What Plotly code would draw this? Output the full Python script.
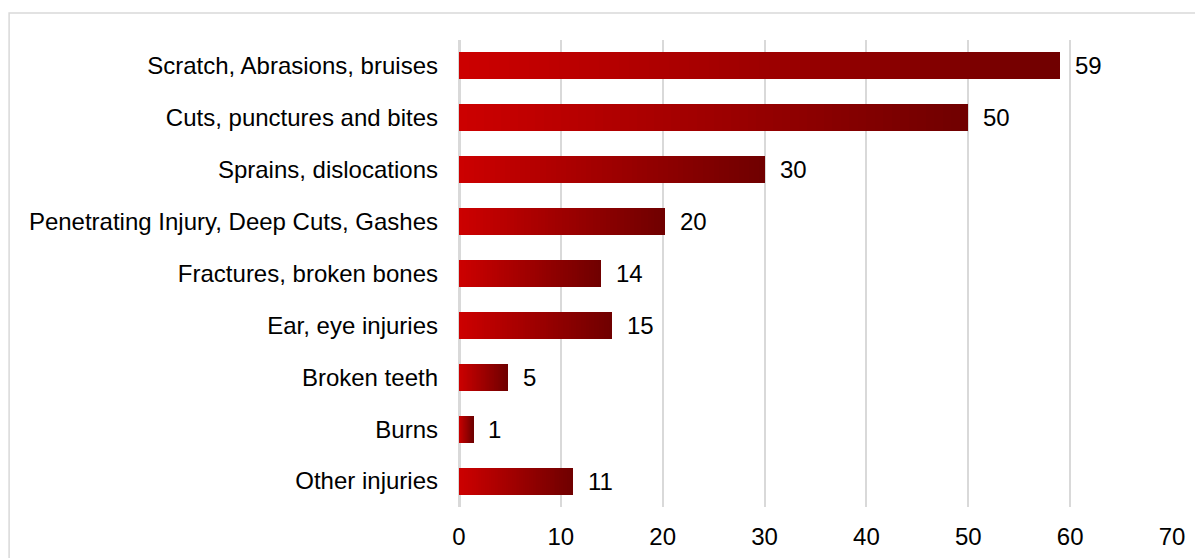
import plotly.graph_objects as go

# injury categories (top to bottom) and values
categories = [
    "Scratch, Abrasions, bruises",
    "Cuts, punctures and bites",
    "Sprains, dislocations",
    "Penetrating Injury, Deep Cuts, Gashes",
    "Fractures, broken bones",
    "Ear, eye injuries",
    "Broken teeth",
    "Burns",
    "Other injuries",
]
values = [59, 50, 30, 20.2, 13.9, 15.0, 4.8, 1.4, 11.2]
value_labels = [str(round(v)) for v in values]
x_ticks = [0, 10, 20, 30, 40, 50, 60, 70]

start_rgb = (204, 0, 0)
end_rgb = (112, 0, 0)
n_steps = 60

fig = go.Figure()

# each bar is built from thin stacked slices so it fades left to right
for i in range(n_steps):
    t = i / (n_steps - 1)
    r, g, b = [round(s + (e - s) * t) for s, e in zip(start_rgb, end_rgb)]
    fig.add_trace(go.Bar(
        x=[v / n_steps for v in values],
        y=categories,
        orientation="h",
        marker=dict(color=f"rgb({r},{g},{b})", line=dict(width=0)),
        width=0.52,
        hoverinfo="skip",
        showlegend=False,
    ))

for v, cat, lab in zip(values, categories, value_labels):
    fig.add_annotation(x=v, y=cat, text=lab, showarrow=False,
                       xanchor="left", xshift=13,
                       font=dict(size=24, color="#000000"))

# light grey chart border
fig.add_shape(type="rect", xref="paper", yref="paper",
              x0=-0.631, x1=2, y0=-1, y1=1.058,
              line=dict(color="#D9D9D9", width=1.5), layer="below")

# page body adds an 8px offset, so margins are shifted to compensate
fig.update_layout(
    barmode="stack",
    width=1203,
    height=558,
    margin=dict(l=451, r=39, t=32, b=59),
    plot_bgcolor="white",
    paper_bgcolor="white",
    font=dict(family="Liberation Sans, Arial, sans-serif", size=24, color="#000000"),
    bargap=0.48,
)
fig.update_xaxes(
    range=[0, 70],
    tickvals=x_ticks,
    showgrid=True,
    gridcolor="#D9D9D9",
    gridwidth=1.5,
    zeroline=True,
    zerolinecolor="#D9D9D9",
    zerolinewidth=3,
    showline=False,
    ticks="",
    ticklabelstandoff=13,
)
fig.update_yaxes(
    autorange="reversed",
    showgrid=False,
    showline=False,
    ticks="",
    ticklabelstandoff=20,
)

fig.write_html("out.html")
